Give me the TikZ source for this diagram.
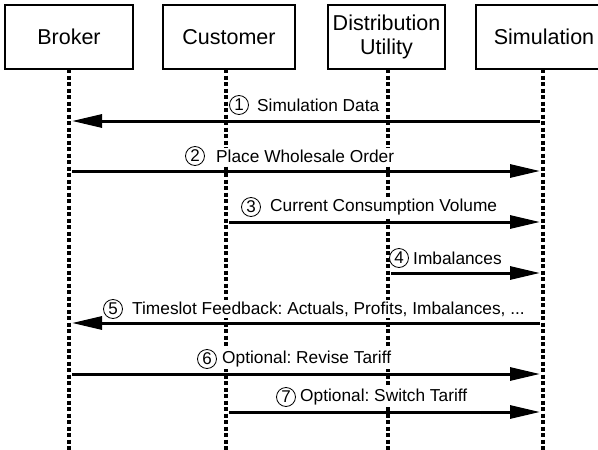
\documentclass[tikz,border=0pt]{standalone}
\usepackage{fontspec}
\setmainfont{Liberation Sans}
\usetikzlibrary{arrows.meta}
\frenchspacing
\begin{document}
\begin{tikzpicture}[x=1pt,y=-1pt,
 actor/.style={draw, line width=1.3pt, minimum height=64pt, font=\fontsize{21.5}{24}\selectfont, align=center, inner sep=0pt},
 life/.style={line width=3.2pt, dash pattern=on 4pt off 2.5pt},
 msg/.style={line width=3pt, -{Triangle[length=30pt,width=13pt]}, shorten >=3pt, shorten <=3pt},
 lbl/.style={fill=white, font=\fontsize{17.3}{19}\selectfont, inner xsep=3pt, inner ysep=2pt, anchor=west},
 cnum/.style={circle, draw, line width=0.8pt, fill=white, inner sep=0pt, minimum size=19pt, font=\fontsize{17}{19}\selectfont}]
\useasboundingbox (0,0) rectangle (598,450);
\fill[white] (0,0) rectangle (598,450);
% actors
\node[actor, minimum width=128pt] (bro) at (69,37) {Broker};
\node[actor, minimum width=132pt] (cus) at (229,37) {Customer};
\node[actor, minimum width=117pt] (dis) at (386.5,37) {Distribution\\Utility};
\node[actor, minimum width=136pt] (sim) at (544,37) {Simulation};
% lifeline coordinates
\coordinate (BT) at (69,69);  \coordinate (BB) at (69,450);
\coordinate (CT) at (226,69); \coordinate (CB) at (226,450);
\coordinate (DT) at (388,69); \coordinate (DB) at (388,450);
\coordinate (ST) at (543,69); \coordinate (SB) at (543,450);
\draw[life] (BT) -- (BB);
\draw[life] (CT) -- (CB);
\draw[life] (DT) -- (DB);
\draw[life] (ST) -- (SB);
\foreach \n/\y in {1/121,2/171,3/222,4/273,5/323,6/374,7/412}{
  \coordinate (B\n) at (69,\y);
  \coordinate (C\n) at (226,\y);
  \coordinate (D\n) at (388,\y);
  \coordinate (S\n) at (543,\y);
}
% messages
\draw[msg] (S1) -- (B1);
\draw[msg] (B2) -- (S2);
\draw[msg] (C3) -- (S3);
\draw[msg] (D4) -- (S4);
\draw[msg] (S5) -- (B5);
\draw[msg] (B6) -- (S6);
\draw[msg] (C7) -- (S7);
% labels
\node[lbl] (t1) at (254,105) {Simulation Data};
\node[cnum] (n1) at (239,105) {1};
\node[lbl] (t2) at (213,156) {Place Wholesale Order};
\node[cnum] (n2) at (195,156) {2};
\node[lbl] (t3) at (267,207) {Current Consumption Volume};
\node[cnum] (n3) at (251,207) {3};
\node[lbl, inner xsep=1pt] (t4) at (412,258) {Imbalances};
\node[cnum] (n4) at (399,258) {4};
\node[lbl] (t5) at (129,309) {Timeslot Feedback: Actuals, Profits, Imbalances, ...};
\node[cnum] (n5) at (113,309) {5};
\node[lbl] (t6) at (219,359) {Optional: Revise Tariff};
\node[cnum] (n6) at (207,359) {6};
\node[lbl] (t7) at (297,397) {Optional: Switch Tariff};
\node[cnum] (n7) at (286,397) {7};
\end{tikzpicture}
\end{document}
